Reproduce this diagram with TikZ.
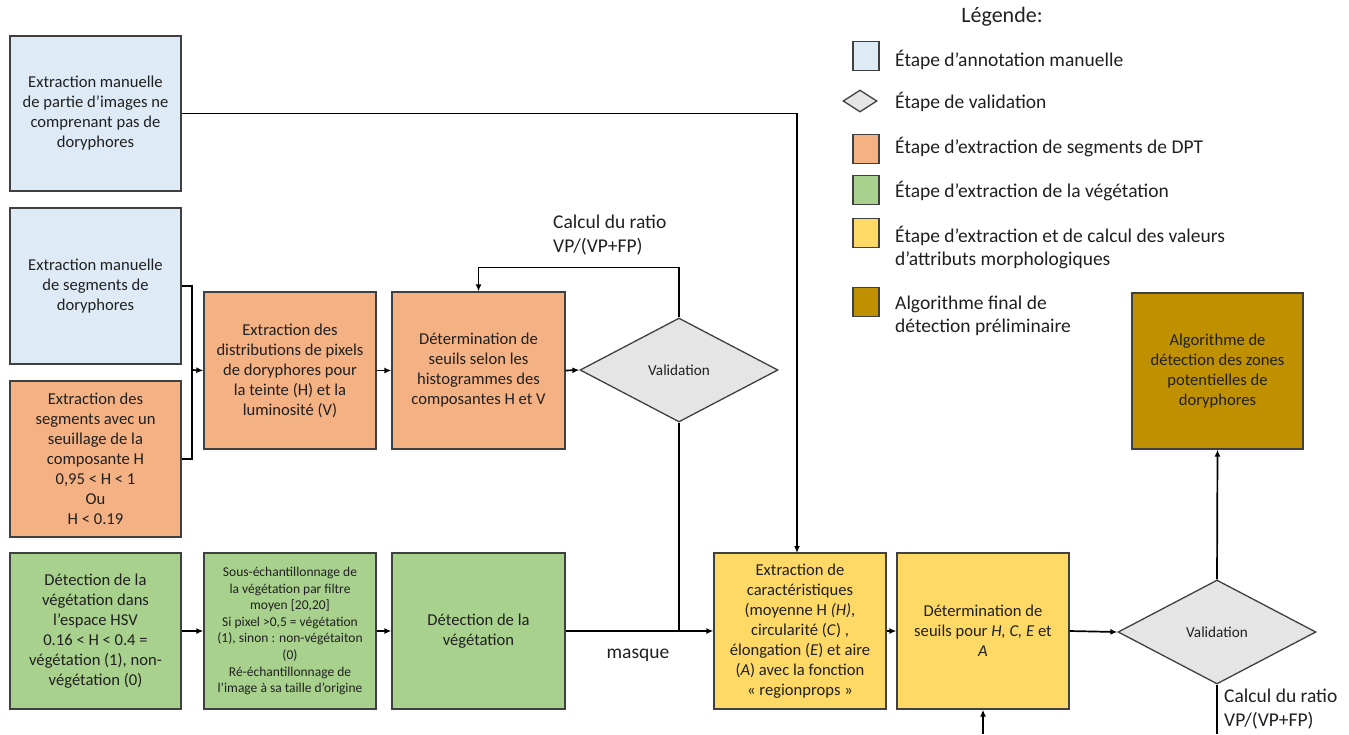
\documentclass[tikz,border=0pt]{standalone}
\usepackage{fontspec}
\setmainfont{Carlito}
\usetikzlibrary{shapes.geometric,arrows.meta}
\definecolor{cblue}{HTML}{DEEBF7}
\definecolor{corange}{HTML}{F4B183}
\definecolor{cgreen}{HTML}{A9D18E}
\definecolor{cyellow}{HTML}{FFD966}
\definecolor{cgold}{HTML}{BF9000}
\definecolor{cgray}{HTML}{E5E5E5}
\definecolor{cborder}{HTML}{404040}
\definecolor{ctext}{HTML}{202020}
\begin{document}
\begin{tikzpicture}[x=1pt,y=-1pt,
  box/.style={draw=cborder, line width=1.3pt, rectangle, inner sep=0pt,
    minimum width=172pt, minimum height=156pt, align=center, text=ctext,
    font=\fontsize{16.6}{20}\selectfont},
  smallbox/.style={box, font=\fontsize{13.5}{16.6}\selectfont},
  valid/.style={draw=cborder, line width=1.3pt, diamond, fill=cgray, inner sep=0pt,
    minimum width=198pt, minimum height=104pt, text=ctext, font=\fontsize{15.2}{18}\selectfont},
  conn/.style={line width=1.7pt, black},
  arr/.style={conn, -{Latex[length=7pt,width=6pt]}},
  lbl/.style={text=ctext, font=\fontsize{19.5}{24.5}\selectfont, inner sep=0pt},
  legsq/.style={draw=cborder, line width=1.3pt, minimum width=26pt, minimum height=29pt, inner sep=0pt},
  legtxt/.style={lbl, anchor=west, align=left, font=\fontsize{19.5}{23}\selectfont}]
\path[use as bounding box, fill=white] (0,0) rectangle (1349,734);

% left column
\node[box, fill=cblue, minimum width=171pt, minimum height=155pt] (B1) at (95.5,113.5)
  {Extraction manuelle\\de partie d’images ne\\comprenant pas de\\doryphores};
\node[box, fill=cblue, minimum width=171pt] (B2) at (95.5,286)
  {Extraction manuelle\\de segments de\\doryphores};
\node[box, fill=corange, minimum width=171pt] (B3) at (95.5,459)
  {Extraction des\\segments avec un\\seuillage de la\\composante H\\0,95 < H < 1\\Ou\\H < 0.19};
\node[box, fill=cgreen, minimum width=171pt] (B4) at (95.5,631)
  {Détection de la\\végétation dans\\l’espace HSV\\0.16 < H < 0.4 =\\végétation (1), non-\\végétation (0)};

% second column
\node[box, fill=corange, minimum height=157pt] (B5) at (290,370.5)
  {Extraction des\\distributions de pixels\\de doryphores pour\\la teinte (H) et la\\luminosité (V)};
\node[smallbox, fill=cgreen] (B6) at (290,631)
  {Sous-échantillonnage de\\la végétation par filtre\\moyen [20,20]\\Si pixel >0,5 = végétation\\(1), sinon : non-végétaiton\\(0)\\Ré-échantillonnage de\\l’image à sa taille d’origine};

% third column
\node[box, fill=corange, minimum width=173pt, minimum height=157pt] (B7) at (478.5,370.5)
  {Détermination de\\seuils selon les\\histogrammes des\\composantes H et V};
\node[box, fill=cgreen, minimum width=173pt] (B8) at (478.5,631)
  {Détection de la\\végétation};

\node[valid] (D1) at (679,370) {Validation};

\node[box, fill=cyellow] (B9) at (800,631)
  {Extraction de\\caractéristiques\\(moyenne H \textit{(H)},\\circularité (\textit{C}) ,\\élongation (\textit{E}) et aire\\(\textit{A}) avec la fonction\\« regionprops »};
\node[box, fill=cyellow] (B10) at (983,631)
  {Détermination de\\seuils pour \textit{H, C, E} et\\\textit{A}};
\node[valid] (D2) at (1217,632) {Validation};
\node[box, fill=cgold, minimum width=171pt] (B11) at (1217.5,371)
  {Algorithme de\\détection des zones\\potentielles de\\doryphores};

% labels
\node[lbl, anchor=west, align=left] (L1) at (553,235) {Calcul du ratio\\VP/(VP+FP)};
\node[lbl, anchor=west, align=left] (L2) at (1224,709) {Calcul du ratio\\VP/(VP+FP)};
\node[lbl] (L3) at (638,655) {masque};

% connectors
\coordinate (bx) at (192,370);
\draw[conn] (B2.east) -| (bx) |- (B3.east);
\draw[arr] (bx) -- (B5.west);
\draw[arr] (B1.east) -- (B1.east -| 797,0) -- (797,553);
\draw[arr] (B5.east) -- (B7.west);
\draw[arr] (B7.east) -- (D1.west);
\draw[arr] (D1.north) -- ++(0,-50) -| (B7.north);
\draw[arr] (B4.east) -- (B6.west);
\draw[arr] (B6.east) -- (B8.west);
\draw[arr] (B8.east) -- (B9.west);
\draw[conn] (D1.south) -- (D1.south |- B9.west);
\draw[arr] (B9.east) -- (B10.west);
\draw[arr] (B10.east) -- (D2.west);
\draw[arr] (D2.north) -- (B11.south);
\coordinate (e1) at (1217,734);
\coordinate (e2) at (983,734);
\draw[conn] (D2.south) -- (e1);
\draw[arr] (e2) -- (B10.south);

% legend
\node[lbl, font=\fontsize{22}{26}\selectfont] (LT) at (1002,17) {Légende:};
\node[legsq, fill=cblue] (S1) at (866,56) {};
\node[valid, minimum width=34pt, minimum height=22pt] (S2) at (860,101) {};
\node[legsq, fill=corange] (S3) at (866,149) {};
\node[legsq, fill=cgreen] (S4) at (866,190) {};
\node[legsq, fill=cyellow] (S5) at (866,233) {};
\node[legsq, fill=cgold] (S6) at (866,302) {};
\node[legtxt] (T1) at (895,60) {Étape d’annotation manuelle};
\node[legtxt] (T2) at (895,102) {Étape de validation};
\node[legtxt] (T3) at (895,147) {Étape d’extraction de segments de DPT};
\node[legtxt] (T4) at (895,191) {Étape d’extraction de la végétation};
\node[legtxt] (T5) at (895,248) {Étape d’extraction et de calcul des valeurs\\d’attributs morphologiques};
\node[legtxt] (T6) at (895,316) {Algorithme final de\\détection préliminaire};
\end{tikzpicture}
\end{document}
